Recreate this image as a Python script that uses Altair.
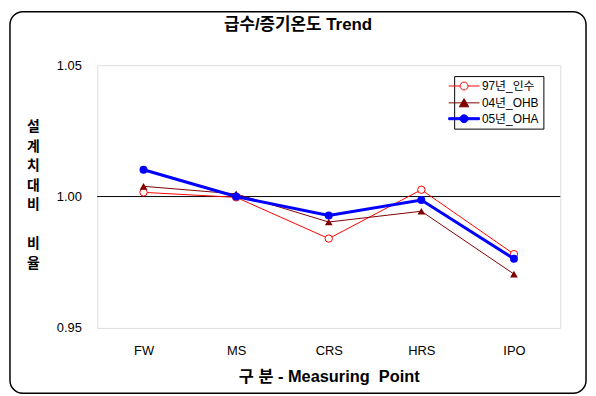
import altair as alt
import pandas as pd

# ---- data ----
points = ["FW", "MS", "CRS", "HRS", "IPO"]
series_names = ["97년_인수", "04년_OHB", "05년_OHA"]
v97 = [1.0016, 0.9997, 0.9840, 1.0026, 0.9781]
v04 = [1.0039, 1.0010, 0.9903, 0.9944, 0.9705]
v05 = [1.0102, 1.0000, 0.9928, 0.9987, 0.9763]
y_ticks = [0.95, 1.00, 1.05]
ref_value = [1.0]

title_text = "급수/증기온도 Trend"
x_title = "구 분 - Measuring\u00a0\u00a0Point"
y_title_lines = ["설", "계", "치", "대", "비", "\u200b", "비", "율"]

FONT = "Liberation Sans, Arial, Noto Sans CJK KR"
RED, DARKRED, BLUE = "#FF0000", "#800000", "#0000FF"

W, H = 467, 265


def sdf(name, vals):
    return pd.DataFrame({"point": points, "value": vals, "series": name})


d97, d04, d05 = sdf(series_names[0], v97), sdf(series_names[1], v04), sdf(series_names[2], v05)
d_all = pd.concat([d97, d04, d05], ignore_index=True)

x_enc = alt.X(
    "point:N",
    sort=points,
    scale=alt.Scale(type="point", padding=0.5),
    axis=alt.Axis(
        title=x_title,
        labelAngle=0,
        ticks=False,
        domain=False,
        labelFont=FONT,
        labelFontSize=13,
        labelColor="black",
        labelPadding=17,
        titleFont=FONT,
        titleFontSize=16.5,
        titleFontWeight="bold",
        titleColor="black",
        titleY=49,
        titleBaseline="middle",
    ),
)
y_enc = alt.Y(
    "value:Q",
    scale=alt.Scale(domain=[0.95, 1.05], nice=False, zero=False),
    axis=alt.Axis(
        values=y_ticks,
        format=".2f",
        grid=False,
        ticks=False,
        domain=False,
        labelFont=FONT,
        labelFontSize=13,
        labelColor="black",
        labelPadding=16,
        title=y_title_lines,
        titleAngle=0,
        titleFont=FONT,
        titleFontSize=14,
        titleFontWeight="bold",
        titleColor="black",
        titleLineHeight=19.7,
        titleAlign="center",
        titleBaseline="middle",
        titleX=-65,
        titleY=62,
    ),
)

frame_df = pd.DataFrame({"k": [0]})
frame = alt.Chart(frame_df).mark_rect(
    fill="white", fillOpacity=0, stroke="black", strokeWidth=1.5, cornerRadius=13, clip=False
).encode(
    x=alt.value(-88), x2=alt.value(W + 26), y=alt.value(-54), y2=alt.value(H + 66)
)

rule = alt.Chart(pd.DataFrame({"value": ref_value})).mark_rule(color="black", strokeWidth=1).encode(
    y=alt.Y("value:Q", scale=alt.Scale(domain=[0.95, 1.05], nice=False, zero=False))
)

line97 = alt.Chart(d97).mark_line(color=RED, strokeWidth=1).encode(x=x_enc, y=y_enc)
line04 = alt.Chart(d04).mark_line(color=DARKRED, strokeWidth=1).encode(x=x_enc, y=y_enc)
line05 = alt.Chart(d05).mark_line(color=BLUE, strokeWidth=3).encode(x=x_enc, y=y_enc)

pt97 = alt.Chart(d97).mark_point(
    shape="circle", size=55, filled=True, fill="white", stroke=RED, strokeWidth=1, opacity=1
).encode(x=x_enc, y=y_enc)
pt04 = alt.Chart(d04).mark_point(
    shape="triangle-up", size=60, filled=True, color=DARKRED, opacity=1
).encode(x=x_enc, y=y_enc)
pt05 = alt.Chart(d05).mark_point(
    shape="circle", size=65, filled=True, color=BLUE, opacity=1
).encode(x=x_enc, y=y_enc)

# legend symbols: line + marker as custom paths (unit = 5px with symbolSize 100)
legend_paths = [
    "M-3.1,0H-0.8M0.8,0H3.1M0.8,0A0.8,0.8,0,1,1,-0.8,0A0.8,0.8,0,1,1,0.8,0Z",
    "M-3.1,0H3.1M0,-0.85L0.95,0.8L-0.95,0.8Z",
    "M-3.1,-0.2H3.1V0.2H-3.1ZM0.8,0A0.8,0.8,0,1,1,-0.8,0A0.8,0.8,0,1,1,0.8,0Z",
]
leg = alt.Legend(
    orient="none",
    legendX=360,
    legendY=11,
    title=None,
    strokeColor="black",
    fillColor="white",
    padding=4,
    cornerRadius=0,
    symbolSize=100,
    symbolStrokeWidth=1,
    labelFont=FONT,
    labelFontSize=12,
    labelColor="black",
    labelOffset=12,
    rowPadding=4,
)
legend_layer = alt.Chart(d_all).mark_point(opacity=1, strokeWidth=1).transform_filter("false").encode(
    x=x_enc,
    y=y_enc,
    shape=alt.Shape("series:N", scale=alt.Scale(domain=series_names, range=legend_paths), legend=leg),
    fill=alt.Fill("series:N", scale=alt.Scale(domain=series_names, range=["white", DARKRED, BLUE]), legend=leg),
    stroke=alt.Stroke("series:N", scale=alt.Scale(domain=series_names, range=[RED, DARKRED, BLUE]), legend=leg),
)

chart = alt.layer(
    frame, rule, line97, line04, pt97, pt04, line05, pt05, legend_layer
).properties(
    width=W,
    height=H,
    padding={"left": 1, "top": 1, "right": 1, "bottom": 1},
    title=alt.TitleParams(
        text=title_text,
        font=FONT,
        fontSize=17,
        fontWeight="bold",
        color="black",
        anchor="middle",
        frame="group",
        dx=-31,
        offset=-23,
    ),
).configure_view(
    stroke="black", strokeWidth=1
).configure(background="white")

chart.save("out.html", embed_options={"renderer": "svg", "actions": False})
